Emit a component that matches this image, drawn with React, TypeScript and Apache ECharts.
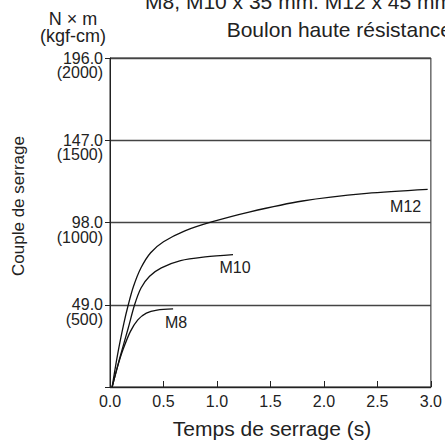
import React, { useEffect, useRef } from "react";
import * as echarts from "echarts";

const xTicks = [0, 0.5, 1.0, 1.5, 2.0, 2.5, 3.0];
const yTicks = [0, 49, 98, 147, 196];

const m8Time = [0.02, 0.07, 0.12, 0.19, 0.26, 0.34, 0.44, 0.59];
const m8Torque = [0, 12, 22, 33, 40, 44, 45.8, 46.5];

const m10Time = [0.02, 0.09, 0.17, 0.23, 0.29, 0.37, 0.48, 0.66, 0.89, 1.15];
const m10Torque = [0, 17, 35, 49, 59, 66, 71, 75.3, 77.5, 78.9];

const m12Time = [0.02, 0.07, 0.13, 0.171, 0.22, 0.29, 0.38, 0.5, 0.7, 0.95, 1.3, 1.8, 2.4, 2.97];
const m12Torque = [0, 19, 38, 49, 60, 71, 80, 86.5, 93, 98.3, 104.2, 110.8, 115.3, 117.7];

const seriesNames = ["M8", "M10", "M12"];
const titleLines = ["M8, M10 x 35 mm. M12 x 45 mm", "Boulon haute résistance"];
const unitLines = ["N × m", "(kgf-cm)"];
const xName = "Temps de serrage (s)";
const yName = "Couple de serrage";

const FONT = "'Liberation Sans', Arial, Helvetica, sans-serif";

export default function App() {
  const ref = useRef<HTMLDivElement>(null);
  useEffect(() => {
    if (!ref.current) return;
    const chart = echarts.init(ref.current, undefined, { renderer: "svg" });
    const zip = (a: number[], b: number[]) => a.map((v, i) => [v, b[i]]);
    const lineStyle = { color: "#111", width: 1.3 };
    const labelOffsets: [number, number][] = [
      [3, 14],
      [2, 13],
      [-22, 17],
    ];
    const datas = [zip(m8Time, m8Torque), zip(m10Time, m10Torque), zip(m12Time, m12Torque)];
    const textStyle = (text: string, size: number, align: string) => ({
      text,
      fontFamily: FONT,
      fontSize: size,
      fill: "#222",
      align,
      verticalAlign: "middle",
    });
    const baseGraphic = [
      { type: "text", x: 452, y: 1.5, style: textStyle(titleLines[0], 21, "right") },
      { type: "text", x: 452, y: 29.5, style: textStyle(titleLines[1], 21, "right") },
      { type: "text", x: 73, y: 19, style: textStyle(unitLines[0], 18, "center") },
      { type: "text", x: 73, y: 36, style: textStyle(unitLines[1], 18, "center") },
      {
        type: "text",
        x: 18,
        y: 206,
        rotation: Math.PI / 2,
        style: textStyle(yName, 17, "center"),
      },
      { type: "text", x: 272, y: 428, style: textStyle(xName, 21, "center") },
    ];
    chart.setOption({
      animation: false,
      grid: {
        left: 110,
        right: 13,
        top: 58,
        bottom: 55,
        show: true,
        borderColor: "#222",
        borderWidth: 1,
        backgroundColor: "transparent",
      },
      xAxis: {
        type: "value",
        min: xTicks[0],
        max: xTicks[xTicks.length - 1],
        interval: 0.5,
        axisLine: { show: true, lineStyle: { color: "#222", width: 1 } },
        axisTick: { show: true, inside: true, length: 6, lineStyle: { color: "#222" } },
        splitLine: { show: false },
        axisLabel: {
          formatter: (v: number) => v.toFixed(1),
          fontFamily: FONT,
          fontSize: 16,
          color: "#222",
          margin: 6,
        },
      },
      yAxis: {
        type: "value",
        min: yTicks[0],
        max: yTicks[yTicks.length - 1],
        interval: 49,
        axisLine: { show: true, lineStyle: { color: "#222", width: 1 } },
        axisTick: { show: true, inside: false, length: 5, lineStyle: { color: "#222" } },
        splitLine: { show: true, lineStyle: { color: "#444", width: 1.4 } },
        axisLabel: {
          formatter: (v: number) =>
            v === 0 ? "" : `{s| }\n{a|${v.toFixed(1)}}\n{a|(${Math.round(v / 0.098)})}`,
          align: "right",
          verticalAlign: "middle",
          margin: 7,
          rich: {
            s: { fontFamily: FONT, fontSize: 16, lineHeight: 14.5, align: "right" },
            a: { fontFamily: FONT, fontSize: 16, lineHeight: 14.5, color: "#222", align: "right" },
          },
        },
      },
      graphic: baseGraphic,
      series: seriesNames.map((name, i) => ({
        name,
        type: "line",
        data: datas[i],
        smooth: 0.3,
        showSymbol: false,
        symbol: "none",
        lineStyle,
        z: 3,
      })),
    });
    const seriesLabels = seriesNames.map((name, i) => {
      const last = datas[i][datas[i].length - 1];
      const p = chart.convertToPixel({ gridIndex: 0 }, last) as number[];
      return {
        type: "text",
        x: p[0] + labelOffsets[i][0],
        y: p[1] + labelOffsets[i][1],
        style: textStyle(name, 16, "center"),
      };
    });
    chart.setOption({ graphic: [...baseGraphic, ...seriesLabels] });
    return () => chart.dispose();
  }, []);
  return (
    <div
      ref={ref}
      style={{ position: "fixed", left: 0, top: 0, width: 445, height: 442, background: "#fff" }}
    />
  );
}
